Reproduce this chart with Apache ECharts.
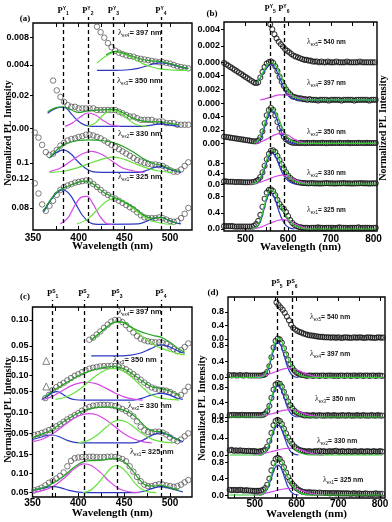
<!DOCTYPE html>
<html>
<head>
<meta charset="utf-8">
<title>PL deconvolution</title>
<script src="https://cdn.jsdelivr.net/npm/echarts@6.0.0/dist/echarts.min.js"></script>
<style>
  html, body { margin: 0; padding: 0; background: #fff; }
  #chart { width: 392px; height: 522px; }
</style>
</head>
<body>
<div id="chart"></div>
<script>
// peak positions (dashed lines), nm
var peaksA = [383, 410, 438, 490];
var peaksB = [558, 590];
var peaksC = [372, 406, 442, 490];
var peaksD = [553, 589];

// ---------- panel (a) ----------
// observed points, 4 nm steps
var obsA397 = [.0096,.0088,.0080,.0072,.0066,.0061,.0058,.0056,.0054,.0053,.0052,.0050,.0049,.0048,.0047,.0046,.0045,.0044,.0044,.0043,.0042,.0040,.0038,.0037,.0036,.0035];
var blueA397 = [[420,.0032],[440,.0032],[455,.0033],[465,.0035],[475,.0039],[483,.0042],[490,.0043],[498,.0042],[506,.0039],[514,.0036],[520,.0035]];
var limeA397 = [[420,.0043],[430,.0053],[440,.0059],[450,.0056],[460,.0049],[470,.0042],[480,.0037],[490,.0034],[500,.0033],[510,.0032],[520,.0032]];
var fitA397 = [[430,.0055],[440,.0060],[450,.0057],[460,.0052],[470,.0048],[480,.0046],[490,.0045],[500,.0042],[510,.0038],[520,.0035]];

var obsA350 = [.029,.023,.019,.016,.014,.013,.013,.012,.012,.012,.012,.012,.011,.011,.011,.011,.011,.011,.010,.009,.008,.007,.007,.006,.005,.005,.005,.005,.004,.004,.004,.003,.003,.003,.002,.002,.002,.002];
var blueA350 = [[366,.009],[373,.0115],[380,.0127],[386,.0122],[393,.008],[400,.004],[407,.0018],[415,.001],[470,.001],[480,.0018],[490,.0025],[500,.0018],[510,.001]];
var magA350 = [[385,.001],[393,.003],[401,.0065],[410,.0092],[419,.0078],[427,.0045],[435,.002],[445,.001]];
var limeA350 = [[410,.001],[418,.003],[428,.0085],[438,.0106],[447,.0085],[455,.005],[463,.002],[475,.001]];
var fitA350 = [[366,.010],[375,.0125],[383,.013],[392,.011],[400,.0095],[410,.0105],[420,.011],[430,.0112],[438,.0115],[448,.0095],[458,.0065],[468,.0045],[478,.0038],[488,.0037],[498,.003],[510,.002]];

var obsA330 = [.142,.135,.125,.115,.111,.113,.118,.124,.128,.131,.133,.134,.136,.137,.139,.139,.138,.136,.134,.131,.128,.125,.122,.119,.116,.113,.110,.107,.104,.102,.100,.099,.098,.098,.097,.096,.093,.090,.088,.088,.091,.096,.101];
var blueA330 = [[368,.107],[375,.114],[383,.118],[391,.113],[399,.102],[407,.093],[415,.088],[425,.087],[465,.087],[475,.090],[483,.094],[490,.095],[498,.092],[505,.089],[512,.087]];
var magA330 = [[368,.088],[380,.093],[392,.103],[403,.112],[414,.116],[425,.112],[437,.102],[448,.093],[460,.089],[472,.087]];
var limeA330 = [[368,.087],[385,.089],[400,.094],[415,.101],[428,.106],[438,.108],[450,.105],[462,.099],[475,.093],[488,.089],[503,.087]];
var fitA330 = [[368,.107],[376,.118],[383,.125],[392,.129],[400,.131],[412,.132],[425,.131],[438,.128],[450,.122],[461,.114],[472,.105],[482,.099],[490,.097],[500,.092],[510,.088]];

var obsA325 = [.114,.100,.085,.076,.083,.090,.098,.105,.109,.111,.113,.115,.116,.117,.118,.117,.113,.109,.105,.101,.098,.095,.093,.090,.087,.084,.081,.078,.074,.070,.067,.066,.066,.066,.067,.066,.064,.062,.061,.062,.066,.072,.080];
var blueA325 = [[362,.075],[370,.092],[377,.102],[383,.105],[390,.099],[397,.085],[404,.070],[412,.060],[420,.0575],[465,.058],[475,.062],[483,.066],[490,.067],[497,.064],[505,.060],[512,.058]];
var magA325 = [[380,.058],[388,.066],[396,.084],[403,.095],[409,.096],[416,.085],[423,.069],[430,.059],[437,.0575]];
var limeA325 = [[398,.058],[410,.065],[420,.077],[430,.089],[438,.093],[448,.090],[458,.081],[468,.071],[478,.063],[490,.059],[503,.0575]];
var fitA325 = [[361,.075],[370,.093],[377,.103],[383,.107],[390,.111],[398,.115],[405,.117],[412,.116],[420,.109],[428,.101],[438,.095],[450,.088],[460,.081],[470,.071],[480,.066],[490,.067],[500,.062],[508,.059]];

// ---------- panel (b) ----------  observed points, 5 nm steps
var obsB540 = [.0046,.0040,.0034,.0029,.0025,.0022,.0019,.0016,.0014,.0012,.0010,.0008,.0007,.0006,.0005,.0004,.0003,.0003,.0002,.0002,.0001,
  .0001,.0001,.0000,.0001,.0000,.0000,.0001,.0000,.0000,.0000,.0001,.0000,.0000,.0000,.0000,.0001,.0000,.0000,.0000,.0000,.0000,.0001,.0000,.0000,.0000,.0000,.0000,.0000,.0000];

var headB397 = [.0058,.0056,.0054,.0052,.0050,.0048,.0046,.0044,.0042,.0040,.0038,.0036,.0034,.0032,.0030,.0029,.0030,.0037,.0045,.0052,.0057,.0059,.0060,.0058,.0053,.0046,.0038,.0031,.0025,.0020,.0016,.0013,.0010,.0009,.0008,.0007,.0007,.0006,.0006];
var tailB397 = [.0005,.0006,.0005,.0005,.0005,.0004,.0005,.0005,.0005,.0005,.0004,.0005,.0005,.0005,.0005,.0005,.0004,.0005,.0005,.0005,.0005,.0005,.0004,.0005,.0005,.0005,.0005,.0005,.0005,.0004,.0005,.0005,.0005];
var obsB397 = headB397.concat(tailB397);
var blueB397 = [[527,.0029],[535,.0036],[545,.0047],[553,.0053],[562,.0055],[570,.0050],[578,.0040],[586,.0028],[594,.0017],[602,.0010],[610,.0007],[620,.0005],[805,.0005]];
var magB397 = [[535,.0005],[550,.0007],[565,.0010],[580,.0012],[590,.0012],[605,.0011],[620,.0009],[635,.0007],[650,.0005]];
var fitB397 = [[527,.0029],[535,.0037],[545,.0049],[553,.0056],[562,.0059],[570,.0055],[578,.0046],[586,.0035],[594,.0024],[602,.0016],[612,.0010],[625,.0007],[640,.0005],[805,.0005]];

var headB350 = [.010,.0095,.009,.0085,.008,.0075,.007,.0065,.006,.0055,.005,.0045,.004,.0035,.003,.003,.004,.009,.018,.030,.042,.050,.053,.050,.042,.032,.023,.016,.010,.006,.004,.002,.001];
var tailB350 = [.0005,.0008,.0004,.0006,.0005,.0003,.0006,.0005,.0004,.0007,.0005,.0005,.0004,.0006,.0005,.0003,.0005,.0006,.0004,.0005,.0005,.0007,.0004,.0005,.0005,.0006,.0003,.0005,.0005,.0004,.0006,.0005,.0005,.0004,.0007,.0005,.0004,.0005,.0005];
var obsB350 = headB350.concat(tailB350);
var blueB350 = [[525,0],[535,.006],[545,.024],[553,.040],[562,.049],[570,.043],[578,.028],[586,.014],[594,.005],[605,.001],[620,0]];
var magB350 = [[525,0],[540,.003],[555,.008],[570,.013],[585,.015],[600,.012],[615,.006],[630,.002],[645,0]];
var fitB350 = [[520,0],[530,.004],[540,.018],[550,.040],[560,.053],[568,.050],[576,.039],[585,.026],[594,.014],[603,.006],[615,.002],[630,0],[805,0]];

var headB330 = [.10,.10,.09,.09,.09,.08,.08,.08,.08,.07,.07,.07,.07,.07,.09,.11,.16,.27,.45,.70,.95,1.16,1.28,1.30,1.23,1.08,.92,.76,.60,.45,.32,.23,.16,.11,.08,.06,.05,.04,.04];
var tailB330 = [.03,.03,.04,.03,.03,.03,.02,.03,.03,.04,.03,.03,.03,.02,.03,.03,.03,.04,.03,.03,.03,.02,.03,.03,.03,.04,.03,.03,.03,.02,.03,.03,.03];
var obsB330 = headB330.concat(tailB330);
var blueB330 = [[515,0],[525,.03],[535,.19],[545,.59],[553,.97],[563,1.18],[572,1.02],[580,.67],[590,.32],[600,.12],[610,.03],[620,0]];
var magB330 = [[510,0],[530,.05],[550,.16],[570,.29],[589,.35],[605,.27],[620,.14],[635,.05],[650,.01]];
var fitB330 = [[515,0],[525,.04],[535,.24],[545,.67],[553,1.06],[563,1.29],[572,1.19],[580,.91],[590,.59],[600,.35],[610,.17],[620,.08],[635,.02],[650,0],[805,0]];

var headB325 = [.07,.07,.07,.07,.07,.06,.06,.06,.06,.06,.06,.06,.06,.06,.08,.12,.20,.35,.55,.75,.90,.97,.98,.94,.84,.72,.62,.55,.50,.42,.32,.22,.15,.10,.07,.05,.04,.03,.03];
var tailB325 = [.03,.02,.03,.03,.03,.04,.03,.03,.02,.03,.03,.03,.03,.02,.03,.04,.03,.03,.03,.02,.03,.03,.03,.03,.04,.02,.03,.03,.03,.03,.02,.03,.03];
var obsB325 = headB325.concat(tailB325);
var blueB325 = [[515,0],[525,.03],[535,.18],[545,.55],[552,.80],[560,.89],[568,.78],[576,.52],[585,.26],[595,.09],[605,.02],[615,0]];
var magB325 = [[515,0],[535,.04],[555,.13],[575,.21],[589,.23],[605,.19],[620,.11],[635,.04],[650,.01]];
var fitB325 = [[515,0],[525,.04],[535,.22],[545,.60],[552,.86],[560,.98],[568,.92],[576,.72],[585,.52],[595,.34],[605,.19],[615,.09],[630,.03],[645,0],[805,0]];

// ---------- panel (c) ----------  observed points, 4 nm steps
var obsC397 = [.062,.066,.072,.078,.085,.091,.097,.100,.100,.096,.090,.083,.076,.069,.064,.061,.059,.058,.057,.057,.056,.054,.049,.044,.040,.042,.048,.055];
var blueC397 = [[414,.031],[440,.031],[455,.032],[467,.036],[478,.044],[487,.051],[492,.052],[500,.048],[508,.041],[516,.036]];
var limeC397 = [[414,.061],[422,.073],[430,.085],[437,.094],[443,.097],[450,.094],[458,.085],[466,.074],[474,.063],[482,.053],[490,.046],[500,.040],[510,.035],[516,.033]];
var fitC397 = [[414,.061],[422,.073],[430,.085],[437,.094],[443,.097],[450,.095],[458,.086],[466,.079],[474,.074],[482,.070],[490,.067],[500,.057],[510,.044],[516,.038]];

var obsC350 = [.030,.040,.055,.064,.071,.077,.085,.092,.099,.104,.110,.116,.121,.124,.126,.128,.129,.129,.130,.129,.127,.124,.119,.112,.104,.096,.087,.078,.070,.063,.059,.056,.055,.053,.049,.043,.036,.040,.052,.065];
var triC350 = [[365,.145],[365,.066]];
var blueC350 = [[360,.026],[366,.035],[372,.047],[377,.050],[383,.042],[390,.030],[397,.025],[405,.024],[460,.024],[470,.030],[480,.040],[490,.045],[498,.041],[506,.032],[514,.026]];
var magC350 = [[362,.026],[372,.036],[382,.052],[392,.068],[402,.077],[410,.079],[420,.074],[430,.061],[440,.046],[450,.034],[460,.027],[470,.024]];
var limeC350 = [[375,.026],[385,.032],[395,.045],[405,.065],[415,.090],[425,.110],[433,.120],[440,.122],[448,.115],[456,.100],[464,.080],[472,.058],[480,.040],[490,.030],[500,.026],[510,.024]];
var fitC350 = [[362,.030],[372,.052],[380,.066],[390,.083],[400,.099],[410,.111],[420,.120],[430,.126],[440,.128],[450,.120],[460,.103],[470,.082],[480,.065],[490,.060],[500,.052],[510,.037]];

var obsC330 = [.046,.048,.051,.054,.058,.062,.067,.072,.078,.084,.089,.094,.099,.105,.110,.114,.117,.118,.119,.119,.119,.118,.116,.113,.109,.104,.098,.091,.079,.066,.057,.053,.053,.054,.054,.052,.047,.040,.034,.031,.035,.043,.050];
var blueC330 = [[350,.035],[358,.040],[366,.045],[372,.046],[380,.041],[388,.033],[396,.028],[404,.027],[460,.027],[470,.033],[480,.045],[490,.051],[498,.047],[506,.037],[514,.030]];
var magC330 = [[350,.030],[362,.037],[374,.052],[386,.072],[396,.088],[405,.096],[412,.098],[420,.095],[430,.083],[440,.066],[450,.049],[460,.037],[470,.030],[480,.027]];
var limeC330 = [[400,.027],[410,.032],[420,.045],[430,.064],[438,.078],[444,.082],[452,.078],[460,.066],[470,.049],[480,.036],[490,.030],[503,.027]];
var fitC330 = [[350,.040],[360,.048],[372,.060],[385,.080],[398,.097],[410,.108],[420,.113],[432,.114],[444,.110],[456,.100],[466,.082],[474,.064],[482,.055],[490,.054],[500,.043],[510,.033]];

var obsC325 = [.055,.058,.062,.068,.075,.080,.086,.093,.102,.118,.132,.139,.141,.142,.142,.143,.143,.142,.142,.142,.143,.143,.142,.140,.137,.131,.118,.104,.090,.079,.070,.066,.066,.069,.071,.070,.068,.066,.064,.066,.070,.076,.082];
var blueC325 = [[350,.055],[360,.060],[368,.064],[374,.065],[382,.061],[390,.055],[398,.051],[406,.049],[462,.049],[472,.053],[482,.061],[490,.065],[498,.062],[506,.056],[514,.051]];
var magC325 = [[350,.050],[362,.055],[374,.068],[386,.090],[396,.112],[406,.124],[414,.120],[424,.102],[434,.078],[444,.060],[454,.052],[466,.049]];
var limeC325 = [[405,.049],[413,.055],[421,.072],[429,.095],[435,.112],[441,.120],[447,.115],[454,.098],[461,.076],[468,.060],[476,.051],[485,.049]];
var fitC325 = [[350,.055],[362,.062],[374,.076],[386,.096],[396,.117],[406,.130],[416,.133],[426,.134],[436,.138],[442,.139],[450,.130],[458,.110],[466,.085],[474,.068],[482,.066],[490,.068],[500,.062],[510,.055]];

// ---------- panel (d) ----------  observed points, 5 nm steps
var headD540 = [1.08,1.00,.93,.86,.77,.66,.55,.42,.33,.28,.24,.21,.19,.16,.14,.12,.11,.10,.09,.08,.07,.06,.06,.05,.05];
var tailD540 = [.05,.04,.05,.04,.04,.05,.03,.04,.05,.04,.04,.03,.05,.04,.04,.05,.04,.03,.04,.05,.04,.04,.03,.04,.05,.04,.04];
var obsD540 = headD540.concat(tailD540);

var headD397 = [.06,.05,.06,.05,.05,.06,.05,.05,.06,.05,.05,.05,.05,.05,.05,.05,.06,.08,.14,.28,.50,.74,.90,.96,.94,.86,.72,.57,.44,.33,.24,.17,.12,.09,.07,.06];
var tailD397 = [.05,.04,.05,.05,.04,.05,.05,.04,.05,.05,.04,.05,.05,.05,.04,.05,.04,.05,.05,.04,.05,.05,.04,.05,.05,.04,.05,.05,.04,.05,.05,.04,.05,.05,.04,.05,.05,.04];
var obsD397 = headD397.concat(tailD397);
var blueD397 = [[510,0],[520,.02],[530,.15],[540,.48],[548,.76],[555,.86],[562,.80],[570,.55],[578,.28],[586,.10],[595,.02],[605,0]];
var magD397 = [[495,0],[520,.04],[545,.12],[565,.20],[585,.23],[605,.17],[625,.08],[645,.02],[660,0]];
var fitD397 = [[440,0],[510,0],[520,.03],[530,.18],[540,.55],[548,.85],[556,.97],[563,.93],[571,.72],[580,.46],[590,.26],[600,.12],[612,.04],[625,.01],[640,0],[805,0]];

var headD350 = [.05,.05,.06,.05,.05,.05,.06,.05,.05,.05,.05,.05,.05,.05,.05,.05,.06,.09,.16,.30,.52,.74,.88,.92,.90,.82,.68,.54,.42,.32,.24,.17,.12,.09,.07,.06];
var tailD350 = [.04,.05,.04,.04,.05,.04,.04,.05,.04,.04,.04,.05,.04,.04,.05,.04,.04,.04,.05,.04,.04,.05,.04,.04,.04,.05,.04,.04,.05,.04,.04,.04,.05,.04,.04,.05,.04,.04];
var obsD350 = headD350.concat(tailD350);
var blueD350 = [[510,0],[520,.02],[530,.15],[540,.47],[548,.74],[555,.84],[562,.78],[570,.54],[578,.27],[586,.10],[595,.02],[605,0]];
var magD350 = [[495,0],[520,.03],[545,.10],[565,.17],[588,.20],[605,.15],[625,.07],[645,.02],[660,0]];
var fitD350 = [[440,0],[510,0],[520,.03],[530,.17],[540,.52],[548,.80],[556,.92],[563,.88],[571,.68],[580,.43],[590,.24],[600,.11],[612,.04],[625,.01],[640,0],[805,0]];

var headD330 = [.11,.12,.10,.11,.10,.11,.10,.10,.09,.10,.09,.09,.09,.08,.08,.09,.10,.13,.20,.33,.52,.70,.80,.83,.80,.73,.62,.51,.41,.33,.26,.20,.16,.13,.11,.10];
var tailD330 = [.09,.08,.09,.08,.08,.09,.08,.10,.08,.09,.08,.08,.09,.08,.09,.10,.08,.08,.09,.08,.08,.09,.08,.08,.09,.08,.08,.09,.08,.08,.09,.08,.08,.09,.08,.08,.09,.08];
var obsD330 = headD330.concat(tailD330);
var blueD330 = [[510,0],[520,.02],[530,.13],[540,.40],[548,.62],[555,.70],[562,.65],[570,.45],[578,.23],[586,.08],[595,.02],[605,0]];
var magD330 = [[495,0],[520,.03],[545,.09],[565,.14],[590,.16],[610,.12],[630,.05],[650,.01],[665,0]];
var fitD330 = [[440,0],[510,0],[520,.03],[530,.15],[540,.45],[548,.70],[556,.80],[563,.77],[571,.58],[580,.38],[590,.22],[600,.11],[612,.04],[625,.01],[640,0],[805,0]];

var headD325 = [.13,.12,.13,.12,.12,.13,.12,.11,.12,.11,.11,.10,.10,.10,.10,.11,.13,.17,.25,.40,.60,.78,.88,.91,.88,.80,.68,.55,.44,.35,.28,.22,.17,.13,.10,.08];
var tailD325 = [.07,.06,.07,.06,.06,.06,.05,.06,.05,.05,.05,.05,.04,.05,.05,.04,.05,.04,.04,.04,.04,.04,.03,.04,.04,.03,.04,.03,.03,.04,.03,.03,.03,.03,.04,.03,.03,.03];
var obsD325 = headD325.concat(tailD325);
var blueD325 = [[510,0],[520,.02],[530,.14],[540,.42],[548,.65],[555,.73],[562,.68],[570,.47],[578,.24],[586,.09],[595,.02],[605,0]];
var magD325 = [[495,0],[520,.03],[545,.09],[565,.14],[590,.16],[610,.12],[630,.05],[650,.01],[665,0]];
var fitD325 = [[440,0],[510,0],[520,.03],[530,.17],[540,.50],[548,.77],[556,.88],[563,.85],[571,.65],[580,.42],[590,.24],[600,.12],[612,.04],[625,.01],[640,0],[805,0]];

var BLUE = '#2b39c4', MAGENTA = '#d447e6', LIME = '#66e33d', GREEN = '#23a323', GREEN_B = '#36c936';
var SANS = '"Liberation Sans", Arial, sans-serif';
var SERIF = '"Liberation Serif", "Times New Roman", serif';

// layout: frame = [left, top, right, bottom]; subs: pixel top/bottom + value range
var panels = [
  { letter: '(a)', letterAt: [25, 19], frame: [33, 23, 192, 230], xRange: [350, 524],
    xLabels: [350, 400, 450, 500], xTicks: [375, 400, 425, 450, 475, 500], labelMargin: 3,
    dashTop: 17, peaks: peaksA, sup: 'Y', first: 1, titleAt: [8, 133], txt: 7.5, sym: 5.5, edge: '#4a4a4a', bw: 0.9, fitColor: GREEN,
    subs: [
      { top: 23, bottom: 71.8, min: 0.003, max: 0.01015, ticks: [0.004, 0.008], dp: 3, lab: ['ex4', '397', 118, 33],
        obs: obsA397, from: 420, step: 4, blue: blueA397, lime: limeA397, fit: fitA397 },
      { top: 72.4, bottom: 131.3, min: -0.002, max: 0.034, ticks: [0, 0.02], dp: 2, lab: ['ex3', '350', 117, 81],
        obs: obsA350, from: 372, step: 4, blue: blueA350, mag: magA350, lime: limeA350, fit: fitA350 },
      { top: 126.75, bottom: 177.5, min: 0.08, max: 0.15, ticks: [0.1], dp: 1, lab: ['ex2', '330', 118, 134],
        obs: obsA330, from: 352, step: 4, blue: blueA330, mag: magA330, lime: limeA330, fit: fitA330 },
      { top: 168.1, bottom: 229.75, min: 0.05, max: 0.135, ticks: [0.08, 0.12], dp: 2, lab: ['ex1', '325', 118, 177],
        obs: obsA325, from: 352, step: 4, blue: blueA325, mag: magA325, lime: limeA325, fit: fitA325 }
    ] },
  { letter: '(b)', letterAt: [212, 14], frame: [224, 22, 377, 231], xRange: [450, 808],
    xLabels: [500, 600, 700, 800], xTicks: [500, 550, 600, 650, 700, 750, 800], labelMargin: 3,
    dashTop: 15, peaks: peaksB, sup: 'Y', first: 5, titleAt: [383, 128], txt: 6.5, sym: 5, edge: '#111', bw: 1.1, fitColor: GREEN_B,
    subs: [
      { top: 21.8, bottom: 65.6, min: -0.0004, max: 0.00491, ticks: [0, 0.002, 0.004], dp: 3, lab: ['ex5', '540', 307, 42],
        obs: obsB540, from: 558, step: 5 },
      { top: 57.9, bottom: 105.4, min: -0.0003, max: 0.0065, ticks: [0, 0.002, 0.004], dp: 3, lab: ['ex4', '397', 307, 83],
        obs: obsB397, from: 450, step: 5, blue: blueB397, mag: magB397, fit: fitB397 },
      { top: 104.6, bottom: 145.3, min: -0.003, max: 0.058, ticks: [0, 0.02, 0.04], dp: 2, lab: ['ex3', '350', 307, 132],
        obs: obsB350, from: 450, step: 5, blue: blueB350, mag: magB350, fit: fitB350 },
      { top: 148.1, bottom: 186.1, min: -0.08, max: 1.38, ticks: [0, 0.4, 0.8], dp: 1, lab: ['ex2', '330', 307, 173],
        obs: obsB330, from: 450, step: 5, blue: blueB330, mag: magB330, fit: fitB330 },
      { top: 186.6, bottom: 231, min: -0.05, max: 1.05, ticks: [0, 0.4, 0.8], dp: 1, lab: ['ex1', '325', 307, 210],
        obs: obsB325, from: 450, step: 5, blue: blueB325, mag: magB325, fit: fitB325 }
    ] },
  { letter: '(c)', letterAt: [25, 297], frame: [32.5, 307, 192, 497], xRange: [350, 524],
    xLabels: [350, 400, 450, 500], xTicks: [375, 400, 425, 450, 475, 500], labelMargin: 1,
    dashTop: 300, peaks: peaksC, sup: 'S', first: 1, titleAt: [8, 410], txt: 7.5, sym: 5.5, edge: '#4a4a4a', bw: 0.9, fitColor: GREEN,
    subs: [
      { top: 307, bottom: 359, min: 0.025, max: 0.125, ticks: [0.05, 0.10], dp: 2, lab: ['ex4', '397', 118, 312],
        obs: obsC397, from: 412, step: 4, blue: blueC397, lime: limeC397, fit: fitC397 },
      { top: 352.8, bottom: 403, min: 0.015, max: 0.17, ticks: [0.05, 0.10, 0.15], dp: 2, lab: ['ex3', '350', 113, 360],
        obs: obsC350, from: 364, step: 4, tri: triC350, blue: blueC350, mag: magC350, lime: limeC350, fit: fitC350 },
      { top: 398.3, bottom: 445.7, min: 0.02, max: 0.135, ticks: [0.05, 0.10], dp: 2, lab: ['ex2', '330', 128, 406],
        obs: obsC330, from: 352, step: 4, blue: blueC330, mag: magC330, lime: limeC330, fit: fitC330 },
      { top: 450.2, bottom: 496.1, min: 0.04, max: 0.16, ticks: [0.05, 0.10, 0.15], dp: 2, lab: ['ex1', '325', 130, 452],
        obs: obsC325, from: 352, step: 4, blue: blueC325, mag: magC325, lime: limeC325, fit: fitC325 }
    ] },
  { letter: '(d)', letterAt: [213, 293], frame: [228, 297, 385, 498], xRange: [436, 812],
    xLabels: [500, 600, 700, 800], xTicks: [450, 500, 550, 600, 650, 700, 750, 800], labelMargin: 1,
    dashTop: 290, peaks: peaksD, sup: 'S', first: 5, titleAt: [202, 408], txt: 6.8, sym: 5, edge: '#111', bw: 1.1, fitColor: GREEN_B,
    subs: [
      { top: 297.3, bottom: 341, min: -0.06, max: 1.226, ticks: [0, 0.4, 0.8], dp: 1, lab: ['ex5', '540', 310, 317],
        obs: obsD540, from: 552, step: 5 },
      { top: 334.9, bottom: 379.5, min: -0.05, max: 1.05, ticks: [0, 0.4, 0.8], dp: 1, lab: ['ex4', '397', 310, 354],
        obs: obsD397, from: 440, step: 5, blue: blueD397, mag: magD397, fit: fitD397 },
      { top: 380, bottom: 418.85, min: -0.05, max: 1.0, ticks: [0, 0.4, 0.8], dp: 1, lab: ['ex3', '350', 315, 399],
        obs: obsD350, from: 440, step: 5, blue: blueD350, mag: magD350, fit: fitD350 },
      { top: 414.6, bottom: 457.1, min: -0.05, max: 0.95, ticks: [0, 0.4, 0.8], dp: 1, lab: ['ex2', '330', 317, 441],
        obs: obsD330, from: 440, step: 5, blue: blueD330, mag: magD330, fit: fitD330 },
      { top: 454, bottom: 498.3, min: -0.08, max: 1.0, ticks: [0, 0.4, 0.8], dp: 1, lab: ['ex1', '325', 323, 480],
        obs: obsD325, from: 440, step: 5, blue: blueD325, mag: magD325, fit: fitD325 }
    ] }
];

function pairs(from, step, vals) {
  return vals.map(function (v, i) { return [from + i * step, v]; });
}

var grid = [], xAxis = [], yAxis = [], series = [], graphic = [];

function hiddenX(gi, r) {
  xAxis.push({ gridIndex: gi, type: 'value', min: r[0], max: r[1], show: false });
  return xAxis.length - 1;
}

panels.forEach(function (p) {
  var f = p.frame, W = f[2] - f[0];

  // outer frame with the wavelength axis
  var gi = grid.length;
  grid.push({ left: f[0], top: f[1], width: W, height: f[3] - f[1], show: true, borderColor: '#000', borderWidth: 1.4,
    containLabel: false, outerBoundsMode: 'none' });
  xAxis.push({ gridIndex: gi, type: 'value', min: p.xRange[0], max: p.xRange[1], position: 'bottom',
    axisLine: { show: false }, splitLine: { show: false },
    axisTick: { show: true, inside: true, length: 4, customValues: p.xTicks, lineStyle: { color: '#000', width: 1 } },
    axisLabel: { customValues: p.xLabels, fontSize: 10, fontWeight: 'bold', color: '#000', fontFamily: SANS, margin: p.labelMargin },
    name: 'Wavelength (nm)', nameLocation: 'middle', nameGap: 11, nameMoveOverlap: false,
    nameTextStyle: { fontFamily: SERIF, fontWeight: 'bold', fontSize: 11, color: '#000' } });
  xAxis.push({ gridIndex: gi, type: 'value', min: p.xRange[0], max: p.xRange[1], position: 'top',
    axisLine: { show: false }, splitLine: { show: false }, axisLabel: { show: false },
    axisTick: { show: true, inside: true, length: 4, customValues: p.xTicks, lineStyle: { color: '#000', width: 1 } } });
  yAxis.push({ gridIndex: gi, type: 'value', min: 0, max: 1, show: false });

  // dashed peak markers, reaching a little above the frame
  var di = grid.length;
  grid.push({ left: f[0], top: p.dashTop, width: W, height: f[3] - p.dashTop, outerBoundsMode: 'none' });
  var dx = hiddenX(di, p.xRange);
  yAxis.push({ gridIndex: di, type: 'value', min: 0, max: 1, show: false });
  series.push({ type: 'line', xAxisIndex: dx, yAxisIndex: yAxis.length - 1, data: [[p.xRange[0], 0]], showSymbol: false,
    lineStyle: { width: 0 }, silent: true, z: 5,
    markLine: { silent: true, symbol: 'none', animation: false,
      lineStyle: { type: [4, 3], color: '#000', width: 1.3 },
      label: { show: true, position: 'end', distance: 1,
        formatter: function (prm) { return '{p|P}{u|' + p.sup + '}{d|' + prm.name + '}'; },
        rich: {
          p: { fontSize: 8.5, fontWeight: 'bold', fontFamily: SERIF, color: '#000', lineHeight: 10 },
          u: { fontSize: 5, fontWeight: 'bold', fontFamily: SANS, color: '#000', lineHeight: 5, verticalAlign: 'top' },
          d: { fontSize: 5, fontWeight: 'bold', fontFamily: SANS, color: '#000', lineHeight: 5, verticalAlign: 'bottom' }
        } },
      data: p.peaks.map(function (w, i) { return { xAxis: w, name: String(p.first + i) }; }) } });

  // stacked spectra
  p.subs.forEach(function (s) {
    var g = grid.length;
    grid.push({ left: f[0], top: s.top, width: W, height: s.bottom - s.top, outerBoundsMode: 'none' });
    var xi = hiddenX(g, p.xRange);
    yAxis.push({ gridIndex: g, type: 'value', min: s.min, max: s.max, position: 'left',
      axisLine: { show: false }, splitLine: { show: false },
      axisTick: { show: true, length: 3, customValues: s.ticks, lineStyle: { color: '#000', width: 1 } },
      axisLabel: { customValues: s.ticks, hideOverlap: false, fontSize: 9, fontWeight: 'bold', color: '#000', fontFamily: SANS, margin: 4,
        formatter: function (v) { return v.toFixed(s.dp); } } });
    var yi = yAxis.length - 1;

    series.push({ type: 'scatter', xAxisIndex: xi, yAxisIndex: yi, data: pairs(s.from, s.step, s.obs),
      symbol: 'circle', symbolSize: p.sym, silent: true, z: 2,
      itemStyle: { color: 'rgba(255,255,255,0)', borderColor: p.edge, borderWidth: p.bw } });
    if (s.tri) {
      series.push({ type: 'scatter', xAxisIndex: xi, yAxisIndex: yi, data: s.tri, symbol: 'triangle', symbolSize: 7,
        silent: true, z: 2, itemStyle: { color: 'rgba(255,255,255,0)', borderColor: '#555', borderWidth: 0.9 } });
    }
    [[s.blue, BLUE], [s.mag, MAGENTA], [s.lime, LIME], [s.fit, p.fitColor]].forEach(function (c) {
      if (!c[0]) return;
      series.push({ type: 'line', xAxisIndex: xi, yAxisIndex: yi, data: c[0], smooth: 0.35, showSymbol: false,
        clip: false, silent: true, z: 3, lineStyle: { color: c[1], width: 1.2 } });
    });

    graphic.push({ type: 'text', x: s.lab[2], y: s.lab[3], z: 20, silent: true,
      style: { text: '{l|λ}{s|' + s.lab[0] + '}{n|= ' + s.lab[1] + ' nm}', fill: '#111',
        verticalAlign: 'middle', align: 'left',
        rich: {
          l: { fontSize: p.txt + 1, fontFamily: SERIF, lineHeight: 10 },
          s: { fontSize: 4.5, fontFamily: SANS, lineHeight: 5, verticalAlign: 'bottom' },
          n: { fontSize: p.txt, fontWeight: 'bold', fontFamily: SANS, lineHeight: 10 }
        } } });
  });

  graphic.push({ type: 'text', x: p.letterAt[0], y: p.letterAt[1], silent: true,
    style: { text: p.letter, font: 'bold 9px ' + SERIF, fill: '#000', align: 'center', verticalAlign: 'middle' } });
  graphic.push({ type: 'text', x: p.titleAt[0], y: p.titleAt[1], rotation: Math.PI / 2, silent: true,
    style: { text: 'Normalized PL Intensity', font: 'bold 10px ' + SERIF, fill: '#000', align: 'center', verticalAlign: 'middle' } });
});

var chart = echarts.init(document.getElementById('chart'), null, { renderer: 'canvas' });
chart.setOption({
  animation: false,
  backgroundColor: '#fff',
  grid: grid,
  xAxis: xAxis,
  yAxis: yAxis,
  series: series,
  graphic: graphic
});
</script>
</body>
</html>
